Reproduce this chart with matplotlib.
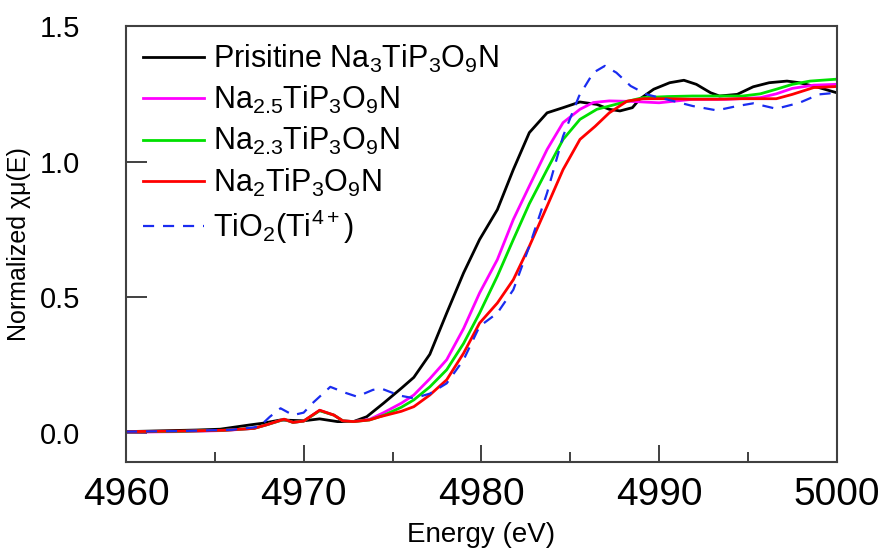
import matplotlib
matplotlib.use("Agg")
import matplotlib.pyplot as plt
from matplotlib.ticker import MultipleLocator

plt.rcParams['font.family'] = ['Liberation Sans', 'DejaVu Sans']
plt.rcParams['mathtext.fontset'] = 'custom'
plt.rcParams['mathtext.rm'] = 'Liberation Sans'
plt.rcParams['mathtext.it'] = 'Liberation Sans:italic'
plt.rcParams['mathtext.bf'] = 'Liberation Sans:bold'

# ---------------- data ----------------
labels = ['Prisitine Na$_3$TiP$_3$O$_9$N', 'Na$_{2.5}$TiP$_3$O$_9$N',
          'Na$_{2.3}$TiP$_3$O$_9$N', 'Na$_2$TiP$_3$O$_9$N', 'TiO$_2$(Ti$^{4+}$)']

e_pristine = [4960, 4962, 4964, 4965.3, 4967.0, 4967.7, 4968.7, 4970.0, 4970.9, 4971.9, 4972.8,
              4973.55, 4974.5, 4975.5, 4976.2, 4977.1, 4978.05, 4979.0, 4979.9, 4980.9, 4981.8,
              4982.7, 4983.7, 4984.6, 4985.55, 4986.5, 4987.2, 4987.8, 4988.5, 4988.9, 4989.7,
              4990.6, 4991.4, 4992.1, 4992.9, 4993.4, 4994.4, 4995.3, 4996.2, 4997.2, 4997.9,
              4999.0, 5000]
y_pristine = [0.005, 0.008, 0.011, 0.014, 0.030, 0.036, 0.048, 0.045, 0.052, 0.042, 0.042,
              0.060, 0.11, 0.165, 0.205, 0.29, 0.442, 0.590, 0.713, 0.823, 0.971,
              1.107, 1.18, 1.199, 1.22, 1.211, 1.193, 1.187, 1.199, 1.23, 1.267,
              1.291, 1.30, 1.285, 1.254, 1.242, 1.248, 1.276, 1.291, 1.297, 1.291,
              1.273, 1.254]

e_na25 = [4960, 4963, 4965.5, 4967.2, 4967.9, 4968.9, 4969.4, 4970.0, 4970.9, 4971.7, 4972.2,
          4972.8, 4973.7, 4974.5, 4975.5, 4976.2, 4977.1, 4978.05, 4979.0, 4979.9, 4980.9,
          4981.8, 4982.7, 4983.7, 4984.6, 4985.55, 4986.3, 4987.2, 4988.5, 4990.0, 4991.9,
          4993.8, 4995.7, 4996.6, 4997.5, 4998.7, 5000]
y_na25 = [0.003, 0.005, 0.009, 0.017, 0.030, 0.050, 0.039, 0.044, 0.083, 0.066, 0.045,
          0.042, 0.050, 0.075, 0.11, 0.14, 0.20, 0.27, 0.385, 0.516, 0.639,
          0.787, 0.91, 1.045, 1.144, 1.193, 1.218, 1.224, 1.222, 1.217, 1.23,
          1.23, 1.236, 1.25, 1.27, 1.282, 1.285]

e_na23 = [4960, 4963, 4965.5, 4967.2, 4967.9, 4968.9, 4969.4, 4970.0, 4970.9, 4971.7, 4972.2,
          4972.8, 4973.7, 4974.5, 4975.5, 4976.2, 4977.1, 4978.05, 4979.0, 4979.9, 4980.9,
          4981.8, 4982.7, 4983.7, 4984.6, 4985.55, 4986.5, 4987.2, 4988.2, 4989.1, 4990.5,
          4991.9, 4993.3, 4994.7, 4995.7, 4996.6, 4997.5, 4998.5, 5000]
y_na23 = [0.004, 0.006, 0.010, 0.017, 0.030, 0.050, 0.039, 0.044, 0.082, 0.066, 0.045,
          0.042, 0.048, 0.065, 0.095, 0.122, 0.17, 0.233, 0.33, 0.442, 0.578,
          0.713, 0.845, 0.971, 1.082, 1.156, 1.193, 1.205, 1.222, 1.236, 1.24,
          1.242, 1.242, 1.242, 1.25, 1.267, 1.285, 1.297, 1.304]

e_na2 = [4960, 4963, 4965.5, 4967.2, 4967.9, 4968.9, 4969.4, 4970.0, 4970.9, 4971.7, 4972.2,
         4972.8, 4973.7, 4974.3, 4975.5, 4976.2, 4977.1, 4978.05, 4979.0, 4979.9, 4980.9,
         4981.8, 4982.7, 4983.7, 4984.6, 4985.55, 4986.4, 4987.2, 4988.2, 4989.1, 4990.5,
         4991.9, 4993.3, 4994.7, 4996.6, 4997.5, 4998.7, 5000]
y_na2 = [0.005, 0.007, 0.010, 0.017, 0.030, 0.051, 0.039, 0.044, 0.084, 0.066, 0.045,
         0.042, 0.048, 0.06, 0.08, 0.097, 0.14, 0.196, 0.294, 0.405, 0.479,
         0.565, 0.688, 0.836, 0.971, 1.082, 1.13, 1.18, 1.223, 1.232, 1.232,
         1.23, 1.23, 1.232, 1.232, 1.248, 1.273, 1.277]

e_tio2 = [4960, 4963, 4966, 4967.5, 4968.1, 4968.7, 4969.4, 4970.0, 4970.5, 4971.5, 4972.4,
          4973.0, 4973.9, 4974.4, 4975.4, 4976.2, 4977.1, 4978.05, 4979.0, 4979.9, 4980.9,
          4981.8, 4982.7, 4983.7, 4984.6, 4985.5, 4986.3, 4986.95, 4987.6, 4988.4, 4989.3,
          4990.4, 4991.9, 4993.25, 4994.4, 4995.3, 4996.6, 4997.9, 4999.0, 5000]
y_tio2 = [0.005, 0.007, 0.012, 0.023, 0.06, 0.091, 0.066, 0.075, 0.11, 0.17, 0.147,
          0.134, 0.159, 0.163, 0.138, 0.128, 0.145, 0.183, 0.27, 0.393, 0.442,
          0.528, 0.688, 0.885, 1.094, 1.242, 1.328, 1.353, 1.328, 1.279, 1.248,
          1.23, 1.205, 1.189, 1.205, 1.215, 1.195, 1.217, 1.248, 1.254]

x_ticks = [4960, 4970, 4980, 4990, 5000]
y_ticks = [0.0, 0.5, 1.0, 1.5]
y_ticklabels = ['0.0', '0.5', '1.0', '1.5']

# ---------------- figure ----------------
fig = plt.figure(figsize=(8.89, 5.58), dpi=100)
ax = fig.add_axes([0.1417, 0.172, 0.7995, 0.7814])

ax.plot(e_pristine, y_pristine, color='black', lw=2.0, label=labels[0])
ax.plot(e_na25, y_na25, color='#ff00ff', lw=2.0, label=labels[1])
ax.plot(e_na23, y_na23, color='#00e000', lw=2.0, label=labels[2])
ax.plot(e_na2, y_na2, color='#ff0000', lw=2.0, label=labels[3])
ax.plot(e_tio2, y_tio2, color='#1a2cf0', lw=1.6, ls=(0, (5, 4)), label=labels[4])

ax.set_xlim(4960, 5000)
ax.set_ylim(-0.107, 1.5)
ax.set_xticks(x_ticks)
ax.set_yticks(y_ticks)
ax.set_yticklabels(y_ticklabels)
ax.xaxis.set_minor_locator(MultipleLocator(5))

for s in ax.spines.values():
    s.set_color('#404040')
    s.set_linewidth(1.5)

ax.tick_params(axis='x', which='major', direction='in', length=12, width=1.4,
               color='#404040', labelsize=28, pad=11, top=False)
ax.tick_params(axis='x', which='minor', direction='in', length=7, width=1.4,
               color='#404040', top=False)
ax.tick_params(axis='y', which='major', direction='in', length=15, width=1.4,
               color='#404040', labelsize=21, pad=33, right=False)

ax.set_xlabel('Energy (eV)', fontsize=20, labelpad=6)
ax.set_ylabel('Normalized χμ(E)', fontsize=18, labelpad=6)

ax.legend(loc='upper left', bbox_to_anchor=(0.0, 1.0), frameon=False, fontsize=22,
          handlelength=2.0, handletextpad=0.3, labelspacing=0.3,
          borderpad=0.0, borderaxespad=0.55)

fig.savefig('out.png', dpi=100)
